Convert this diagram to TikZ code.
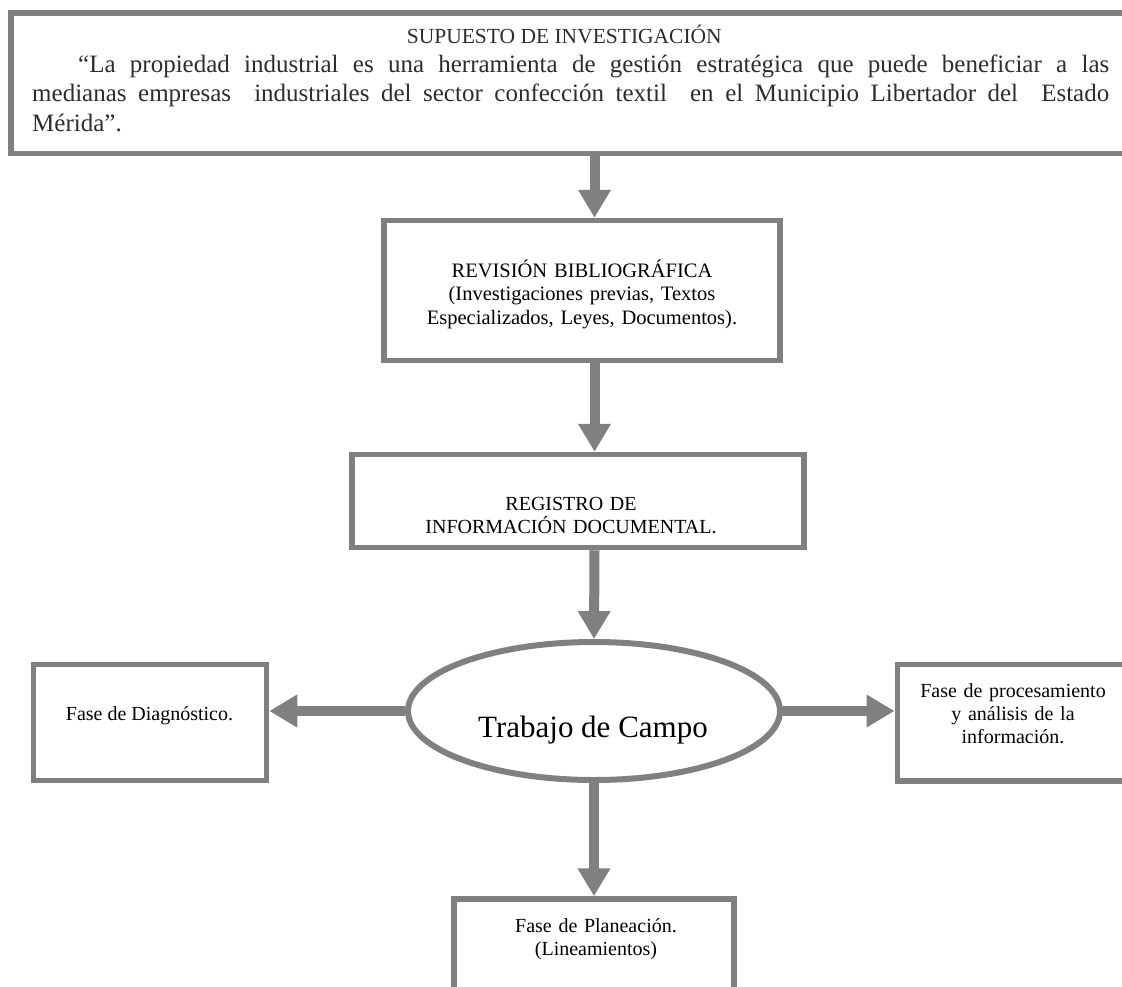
\documentclass[tikz,border=0pt]{standalone}
\usepackage{fontspec}
\setmainfont{Liberation Serif}
\usetikzlibrary{arrows.meta,shapes.geometric}
\definecolor{bgray}{RGB}{128,128,128}
\definecolor{ttext}{RGB}{45,45,45}
\begin{document}
\begin{tikzpicture}[x=1pt,y=-1pt,
  box/.style={draw=bgray,line width=5.5pt,rectangle,inner sep=0pt,fill=white},
  oval/.style={draw=bgray,line width=6pt,ellipse,inner sep=0pt,minimum width=372pt,minimum height=138pt,fill=white},
  arr/.style={draw=bgray,line width=10pt,-{Triangle[length=28pt,width=31pt]}},
  txt/.style={inner sep=0pt,align=center,font=\fontsize{20.5}{23.5}\selectfont},
]
\useasboundingbox (0,0) rectangle (1122,986);
\clip (0,0) rectangle (1122,986);
\fill[white] (0,0) rectangle (1122,986);

% boxes
\node[box,minimum width=1124pt,minimum height=140.5pt] (top) at (573,83) {};
\node[box,minimum width=396pt,minimum height=140pt] (rev) at (582,290.5) {};
\node[box,minimum width=452pt,minimum height=93pt] (reg) at (578,501) {};
\node[oval] (ell) at (594,711) {};
\node[box,minimum width=233pt,minimum height=116pt] (left) at (150,722.5) {};
\node[box,minimum width=237.5pt,minimum height=116.5pt] (right) at (1016,722.75) {};
\node[box,minimum width=280pt,minimum height=111pt] (bottom) at (594,954.5) {};
\coordinate (cx) at (594.5,0);

% texts
\node[inner sep=0pt,anchor=base east,text=ttext,font=\fontsize{21.5}{25}\selectfont] (title) at (722,43) {SUPUESTO DE INVESTIGACIÓN};
\node[inner sep=0pt,anchor=base west,text width=1077pt,align=justify,text=ttext,font=\fontsize{25}{29.5}\selectfont] (para) at (32,72)
 {\hspace*{46pt}“La propiedad industrial es una herramienta de gestión estratégica que puede beneficiar a las\linebreak medianas empresas \ industriales del sector confección textil \ en el Municipio Libertador del \ Estado\linebreak Mérida”.};
\node[txt,text width=390pt,anchor=base] (revtext) at (582,277) {REVISIÓN BIBLIOGRÁFICA\\(Investigaciones previas, Textos\\Especializados, Leyes, Documentos).};
\node[txt,text width=440pt,anchor=base,font=\fontsize{20}{23}\selectfont] (regtext) at (571,510) {REGISTRO DE\\INFORMACIÓN DOCUMENTAL.};
\node[inner sep=0pt,anchor=base,font=\fontsize{31}{36}\selectfont] (elltext) at (593,737) {Trabajo de Campo};
\node[inner sep=0pt,anchor=base,font=\fontsize{20}{23}\selectfont] (lefttext) at (149.5,720) {Fase de Diagnóstico.};
\node[txt,text width=230pt,anchor=base,font=\fontsize{20}{23}\selectfont] (righttext) at (1013,697) {Fase de procesamiento\\y análisis de la\\información.};
\node[txt,text width=270pt,anchor=base,font=\fontsize{20}{23}\selectfont] (bottomtext) at (596,932) {Fase de Planeación.\\(Lineamientos)};

% arrows
\draw[arr] (top.south -| cx) -- (rev.north -| cx);
\draw[arr] (rev.south -| cx) -- (reg.north -| cx);
\draw[arr] (reg.south -| cx) -- (ell.north);
\draw[arr] (ell.west) -- (left.east |- ell.west);
\draw[arr] (ell.east) -- (right.west |- ell.east);
\draw[arr] (ell.south) -- (bottom.north -| ell.south);
\end{tikzpicture}
\end{document}
